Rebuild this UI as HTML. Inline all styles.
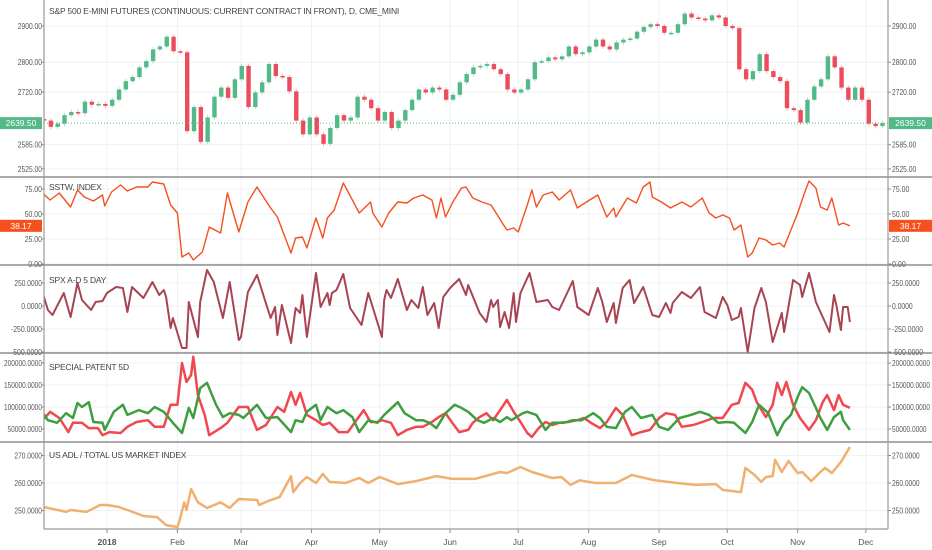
<!DOCTYPE html>
<html><head><meta charset="utf-8"><style>
html,body{margin:0;padding:0;background:#fff;}
svg{display:block;font-family:"Liberation Sans",sans-serif;}
</style></head><body>
<svg id="c" width="932" height="550" viewBox="0 0 932 550"></svg>
<script>
// ---- data ----
const candleStartDay = -27.7;
const candleStepDays = 3;
const closes = [2646,2630,2638,2660,2668,2665,2695,2687,2689,2684,2700,2727,2749,2760,2786,2803,2835,2843,2870,2830,2827,2619,2681,2592,2654,2708,2732,2705,2754,2790,2681,2719,2746,2795,2763,2760,2722,2646,2611,2654,2611,2587,2627,2660,2646,2654,2708,2700,2678,2646,2668,2627,2646,2673,2700,2727,2719,2732,2727,2700,2713,2746,2768,2786,2790,2795,2781,2768,2727,2719,2727,2754,2800,2803,2813,2808,2816,2843,2822,2827,2843,2862,2843,2835,2854,2862,2865,2884,2897,2905,2900,2881,2881,2905,2935,2924,2921,2916,2930,2924,2900,2894,2781,2754,2776,2822,2776,2760,2749,2678,2673,2641,2700,2735,2754,2816,2786,2732,2700,2732,2700,2638,2632,2639.5];

const sstwDays = [-29,-25,-21,-16,-13,-10,-6,-2,-1,2,6,9,13,18,20,25,28,31,33,36,38,42,45,50,53,58,62,66,72,75,81,83,86,88,92,95,97,100,104,108,111,116,117,121,124,128,132,135,139,143,145,147,149,152,156,158,161,165,169,171,174,176,179,181,185,187,189,192,196,199,204,207,211,216,220,223,224,229,233,236,239,240,244,248,253,257,262,265,268,271,274,276,279,282,284,287,290,293,296,298,301,304,307,309,312,314,317,319,322,324,327];
const sstwValues = [72,64,71,57,74,67,63,69,58,72,79,73,77,77,82,80,59,51,7,11,4,12,37,31,71,32,62,77,56,47,11,26,27,16,46,26,46,54,81,64,51,62,51,37,51,62,61,66,69,64,46,66,47,61,76,77,66,62,59,52,41,34,36,32,59,74,57,69,72,64,74,56,62,69,47,56,47,66,61,77,82,67,62,56,62,57,66,51,46,49,46,34,39,7,11,26,24,19,21,17,34,51,71,83,76,57,54,66,39,41,38.17];

const adDays = [-29,-26,-24,-19,-16,-13,-11,-7,-5,-2,0,4,7,9,11,16,20,23,25,26,28,29,33,35,36,40,41,44,47,51,54,58,59,62,66,72,74,75,77,81,83,85,86,88,92,94,97,98,99,101,104,107,112,115,118,121,122,123,125,128,132,134,137,139,141,144,146,148,151,155,158,159,164,167,169,170,172,173,175,177,179,180,182,186,189,194,196,199,205,207,212,216,218,220,223,224,227,230,232,236,240,243,246,248,249,253,257,261,263,268,271,273,275,278,279,282,285,288,290,293,297,298,302,305,306,309,312,318,320,321,323,324,326,327];
const adValues = [196,-43,-98,141,-120,250,65,-43,43,54,141,207,196,-65,207,87,261,120,174,98,-239,-130,-457,-457,43,-337,43,391,261,-130,261,-370,-337,152,337,-130,-11,-315,11,-402,-22,-76,120,-337,359,-11,141,11,141,174,348,-22,-207,141,-98,-337,65,174,87,293,-43,65,-22,207,-98,33,-239,98,196,293,120,228,-76,-174,65,-11,65,-228,-65,-239,141,-174,141,359,43,65,-11,-43,272,-11,-98,196,43,-174,33,-185,196,283,33,207,-98,-120,33,-76,33,152,87,207,-65,-130,98,11,-152,-120,-22,-500,-22,196,43,-391,-76,-283,283,228,98,359,43,-283,120,11,-261,-11,-11,-174];

const redDays = [-29,-25,-21,-17,-15,-11,-8,-4,-2,1,6,9,13,18,21,25,28,31,33,35,37,38,40,43,45,50,53,58,62,66,70,75,78,81,83,85,88,92,95,98,102,106,109,113,116,119,121,125,128,132,136,139,143,146,149,152,155,159,161,164,167,170,173,176,179,182,185,187,190,193,196,199,203,207,210,213,217,220,224,227,231,235,239,243,246,250,253,258,262,267,271,275,278,281,284,286,290,293,295,297,299,302,305,309,312,315,317,320,322,324,327];
const redValuesK = [66,89,75,43,64,64,52,52,36,43,41,55,66,70,55,55,105,105,200,157,173,214,127,82,36,52,64,100,100,48,59,100,89,134,105,132,82,70,59,64,43,43,64,93,66,66,70,64,36,48,55,55,66,77,86,64,43,48,64,77,86,70,93,116,89,66,41,32,52,66,59,64,66,70,75,64,52,66,98,82,36,43,48,75,86,82,55,59,66,75,75,105,109,155,139,111,77,105,155,127,157,105,75,48,70,111,127,93,127,105,98];

const greenDays = [-29,-26,-22,-18,-15,-13,-11,-8,-6,-2,-1,3,7,9,14,18,21,25,29,33,36,38,41,44,48,51,54,58,60,66,70,75,77,81,83,86,88,92,94,97,101,104,108,111,115,119,122,128,131,136,139,142,145,149,153,156,159,163,166,170,173,176,178,183,185,189,193,196,201,205,209,214,217,220,224,228,231,235,240,243,247,252,257,261,265,269,273,276,281,284,287,291,295,298,301,304,306,309,312,314,317,320,323,324,327];
const greenValuesK = [93,70,64,86,75,109,100,111,66,64,48,89,105,82,93,86,100,89,64,41,98,75,143,155,105,77,86,82,75,105,75,77,66,43,70,66,89,105,70,100,86,93,77,43,70,64,82,111,86,70,70,64,52,86,105,98,89,70,64,75,66,77,70,86,89,82,48,64,64,70,70,86,75,55,52,89,100,75,82,55,48,75,82,89,82,64,66,64,41,66,105,86,36,66,82,123,145,132,98,75,48,77,89,70,48];

const adlDays = [-28,-18,-16,-9,-3,0,5,9,16,22,26,31,32,34,35,37,40,44,50,54,58,66,67,71,76,81,82,85,88,92,95,98,105,111,115,120,128,136,145,152,162,173,176,182,187,196,200,204,208,215,224,231,241,251,259,268,271,279,281,285,288,290,293,294,297,300,304,306,310,314,316,319,323,327];
const adlValues = [251.3,249.5,250.2,249.5,252,252,251.3,250.2,248,247.6,244.7,244,246.5,253,250.2,257.8,253,250.9,253,250.9,254.2,253.8,252,253.5,254.9,262.5,256.7,260,262.2,260,263.3,260.4,260,261.8,260,262.2,259.6,260.7,262.5,261.5,261.5,264,263.6,265.8,264,261.8,262.2,259.3,261,260,260,262.9,261,260,259.3,259.6,257.5,256.7,265.5,262.9,260.4,262.2,262.5,268.4,264,268,263.6,264,260.7,264,265.5,263.6,267.6,273.1];

const monthLabels = ["2018","Feb","Mar","Apr","May","Jun","Jul","Aug","Sep","Oct","Nov","Dec"];
const monthDays = [0,31,59,90,120,151,181,212,243,273,304,334];
const priceTicks = [2900,2800,2720,2585,2525];
const sstwTicks = [75,50,25,0];
const adTicks = [250,0,-250,-500];
const patentTicks = [200000,150000,100000,50000];
const adlTicks = [270,260,250];
const lastPrice = 2639.5;

// ---- layout ----
const L=44,R=888;
const NS="http://www.w3.org/2000/svg";
const svg=document.getElementById('c');
function el(t,a,p){const e=document.createElementNS(NS,t);for(const k in a)e.setAttribute(k,a[k]);(p||svg).appendChild(e);return e;}
const x=d=>107+d*2.272;
const yPrice=v=>26+Math.log(2900/v)*1032;
const ySstw=v=>264-v;
const yAd=v=>306-v*0.092;
const yPat=v=>451-v*0.00044;
const yAdl=v=>483-(v-260)*2.75;

const defs=el('defs',{});
const cp=el('clipPath',{id:'plot'},defs);
el('rect',{x:L,y:0,width:R-L,height:530},cp);

// grid
const grid=el('g',{});


monthDays.forEach(d=>el('line',{x1:x(d),x2:x(d),y1:0,y2:529,stroke:'#eef0f4','stroke-width':1},grid));
const hg=(vals,f)=>vals.forEach(v=>el('line',{x1:L,x2:R,y1:f(v),y2:f(v),stroke:'#eef0f4','stroke-width':1},grid));
hg(priceTicks,yPrice);hg(sstwTicks,ySstw);hg(adTicks,yAd);hg(patentTicks,v=>yPat(v));hg(adlTicks,yAdl);

// axis labels
function axisLabels(vals,f,fmt,name){
  vals.forEach(v=>{
    const y=f(v);
    const s=fmt(v);
    const tl=(s.length*3.45).toFixed(1);
    const t1=el('text',{x:42-tl,y:y+3,'font-size':'8',fill:'#555',textLength:tl,lengthAdjust:'spacingAndGlyphs'});t1.textContent=s;
    
    
    const t2=el('text',{x:892,y:y+3,'font-size':'8',fill:'#555',textLength:tl,lengthAdjust:'spacingAndGlyphs'});t2.textContent=s;
    
    
    el('line',{x1:L-3,x2:L,y1:y,y2:y,stroke:'#888'});el('line',{x1:R,x2:R+3,y1:y,y2:y,stroke:'#888'});
  });
}
axisLabels(priceTicks,yPrice,v=>v.toFixed(2),'price');
axisLabels(sstwTicks,ySstw,v=>v.toFixed(2),'sstw');
axisLabels(adTicks,yAd,v=>v.toFixed(4),'ad');
axisLabels(patentTicks,yPat,v=>v.toFixed(4),'patent');
axisLabels(adlTicks,yAdl,v=>v.toFixed(4),'adl');

// month labels
monthLabels.forEach((m,i)=>{
  const t=el('text',{x:x(monthDays[i]),y:545,'text-anchor':'middle','font-size':'8.5',fill:'#555','font-weight':i==0?'bold':'normal'});
  t.textContent=m;
  
  
  el('line',{x1:x(monthDays[i]),x2:x(monthDays[i]),y1:529,y2:533,stroke:'#888'});
});

// candles
const cg=el('g',{'clip-path':'url(#plot)'});


closes.forEach((c,i)=>{
  const o=i?closes[i-1]:c+4;
  const d=candleStartDay+i*candleStepDays;
  const cx=x(d);
  const col=c>=o?'#53b987':'#eb4d5c';
  const hi=Math.max(o,c)+6, lo=Math.min(o,c)-6;
  el('line',{x1:cx,x2:cx,y1:yPrice(hi),y2:yPrice(lo),stroke:col,'stroke-opacity':0.45,'stroke-width':1},cg);
  const y1=yPrice(Math.max(o,c)),y2=yPrice(Math.min(o,c));
  const r=el('rect',{x:cx-2.2,y:y1,width:4.4,height:Math.max(1.5,y2-y1),fill:col},cg);
  
  
});
// last price line
el('line',{x1:L,x2:R,y1:yPrice(lastPrice),y2:yPrice(lastPrice),stroke:'#53b987','stroke-width':1,'stroke-dasharray':'1,2'});

function line(days,vals,f,color,w,name){
  const p=el('path',{d:days.map((d,i)=>(i?'L':'M')+x(d).toFixed(1)+','+f(vals[i]).toFixed(1)).join(''),fill:'none',stroke:color,'stroke-width':w,'stroke-linejoin':'round','clip-path':'url(#plot)'});
  
  
}
line(sstwDays,sstwValues,ySstw,'#f4511e',1.4,'sstw-line');
line(adDays,adValues,yAd,'#a84452',2,'ad-line');
line(redDays,redValuesK,v=>yPat(v*1000),'#f0484e',2.5,'patent-red-line');
line(greenDays,greenValuesK,v=>yPat(v*1000),'#3f9e40',2.5,'patent-green-line');
line(adlDays,adlValues,yAdl,'#f0b070',2.5,'adl-line');

// panel borders
[177,265,353,442].forEach(y=>el('line',{x1:0,x2:932,y1:y,y2:y,stroke:'#777','stroke-width':1.2}));
el('line',{x1:L,x2:L,y1:0,y2:529,stroke:'#999','stroke-width':1.2});
el('line',{x1:R,x2:R,y1:0,y2:529,stroke:'#999','stroke-width':1.2});
el('line',{x1:L,x2:R,y1:529,y2:529,stroke:'#999','stroke-width':1.2});

// titles
[["S&P 500 E-MINI FUTURES (CONTINUOUS: CURRENT CONTRACT IN FRONT), D, CME_MINI",14,'main-title'],["SSTW, INDEX",190,'sstw-title'],["SPX A-D 5 DAY",283,'ad-title'],["SPECIAL PATENT 5D",370,'patent-title'],["US ADL / TOTAL US MARKET INDEX",458,'adl-title']].forEach(([s,y,n])=>{
  const t=el('text',{x:49,y:y,'font-size':'8.5',fill:'#444','letter-spacing':'-0.2'});t.textContent=s;
  
  
});

// value badges
function badge(v,f,txt,col,name){
  const y=f(v);
  [[0,42],[889,43]].forEach(([bx,bw],k)=>{
    el('rect',{x:bx,y:y-6,width:bw,height:12,fill:col});
    const t=el('text',{x:bx+bw/2,y:y+3,'text-anchor':'middle','font-size':'8.5',fill:'#fff'});t.textContent=txt;
    
    
  });
}
badge(lastPrice,yPrice,'2639.50','#53b987','last-price-badge');
badge(sstwValues[sstwValues.length-1],ySstw,'38.17','#f4511e','sstw-value-badge');
</script>
</body></html>
